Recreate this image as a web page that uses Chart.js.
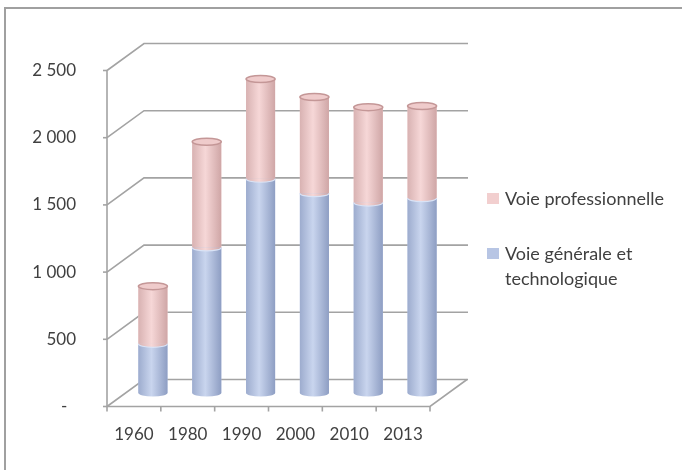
<!DOCTYPE html>
<html>
<head>
<meta charset="utf-8">
<script src="https://cdn.jsdelivr.net/npm/chart.js@4/dist/chart.umd.min.js"></script>
<style>
  body { margin: 0; background: #fff; }
  #wrap { position: relative; width: 682px; height: 470px; overflow: hidden; }
  #legend { position: absolute; left: 487px; top: 0; font-family: Lato, sans-serif; font-size: 18px; color: #404040; }
  .item { position: absolute; left: 0; width: 195px; line-height: 25px; }
  .box { position: absolute; left: 0; width: 12px; height: 11px; }
  .txt { position: absolute; left: 18px; width: 170px; }
</style>
</head>
<body>
<div id="wrap">
  <canvas id="chart" width="682" height="470"></canvas>
  <div id="legend"></div>
</div>
<script>
// data (thousands of pupils)
const categories = ['1960', '1980', '1990', '2000', '2010', '2013'];
const voieGenerale = [366, 1083, 1594, 1487, 1417, 1450];
const voiePro = [429, 786, 742, 715, 710, 685];
const yTickLabels = ['-  ', '500', '1 000', '1 500', '2 000', '2 500'];

const legendTops = [186, 241];

// offsets of the front and back planes of the fake 3D box
const depth = { fx: -19, fy: 13.5, bx: 18, by: -13.5 };
const gridColor = '#A3A3A3';

Chart.defaults.font.family = 'Lato, sans-serif';
Chart.defaults.font.size = 17;
Chart.defaults.color = '#404040';

function shade(ctx, x, w, stops) {
    const g = ctx.createLinearGradient(x - w / 2, 0, x + w / 2, 0);
    g.addColorStop(0, stops[0]);
    g.addColorStop(0.45, stops[1]);
    g.addColorStop(1, stops[2]);
    return g;
}

const frame3d = {
    id: 'frame3d',
    beforeDraw(chart) {
        const ctx = chart.ctx;
        ctx.save();
        ctx.strokeStyle = '#A0A0A0';
        ctx.lineWidth = 2;
        ctx.beginPath();
        ctx.moveTo(5, chart.height);
        ctx.lineTo(5, 8);
        ctx.lineTo(chart.width, 8);
        ctx.stroke();
        ctx.restore();
    },
    beforeDatasetsDraw(chart) {
        const ctx = chart.ctx;
        const a = chart.chartArea;
        const ys = chart.scales.y;
        const xs = chart.scales.x;
        ctx.save();
        ctx.strokeStyle = gridColor;
        ctx.lineWidth = 1.6;
        ys.ticks.forEach(t => {
            const y = ys.getPixelForValue(t.value);
            ctx.beginPath();
            ctx.moveTo(a.left + depth.fx, y + depth.fy);
            ctx.lineTo(a.left + depth.bx, y + depth.by);
            ctx.lineTo(a.right + depth.bx + 1, y + depth.by);
            ctx.stroke();
            // tick mark on the front axis
            ctx.beginPath();
            ctx.moveTo(a.left + depth.fx - 4, y + depth.fy);
            ctx.lineTo(a.left + depth.fx, y + depth.fy);
            ctx.stroke();
        });
        const y0 = ys.getPixelForValue(0);
        const yTop = ys.getPixelForValue(ys.max);
        // front axis line and floor
        ctx.beginPath();
        ctx.moveTo(a.left + depth.fx, yTop + depth.fy);
        ctx.lineTo(a.left + depth.fx, y0 + depth.fy);
        ctx.lineTo(a.right + depth.fx, y0 + depth.fy);
        ctx.lineTo(a.right + depth.bx, y0 + depth.by);
        ctx.stroke();
        // category tick marks on the floor edge
        const n = categories.length;
        for (let i = 0; i <= n; i++) {
            let x;
            if (i === 0) x = a.left;
            else if (i === n) x = a.right;
            else x = (xs.getPixelForValue(i - 1) + xs.getPixelForValue(i)) / 2;
            ctx.beginPath();
            ctx.moveTo(x + depth.fx, y0 + depth.fy);
            ctx.lineTo(x + depth.fx, y0 + depth.fy + 5);
            ctx.stroke();
        }
        ctx.restore();
    },
    afterDatasetsDraw(chart) {
        const ctx = chart.ctx;
        const looks = [
            { body: ['#9DACCE', '#C9D5EE', '#8E9EC3'], rim: '#D9E3F6' },
            { body: ['#D8B2B2', '#F6D7D7', '#CFA6A6'], rim: '#F3D4D4' }
        ];
        ctx.save();
        chart.data.datasets.forEach((ds, di) => {
            const meta = chart.getDatasetMeta(di);
            const look = looks[di];
            meta.data.forEach(bar => {
                const p = bar.getProps(['x', 'y', 'base', 'width'], true);
                const rx = p.width / 2, ry = 3.5;
                const g = shade(ctx, p.x, p.width, look.body);
                ctx.fillStyle = g;
                ctx.fillRect(p.x - rx, p.y, p.width, p.base - p.y);
                ctx.beginPath();
                ctx.ellipse(p.x, p.base, rx, ry, 0, 0, Math.PI);
                ctx.fill();
                if (di > 0) {
                    ctx.strokeStyle = looks[di - 1].rim;
                    ctx.lineWidth = 1.2;
                    ctx.beginPath();
                    ctx.ellipse(p.x, p.base, rx, ry, 0, 0, Math.PI);
                    ctx.stroke();
                }
                if (di === chart.data.datasets.length - 1) {
                    ctx.beginPath();
                    ctx.ellipse(p.x, p.y, rx, ry, 0, 0, Math.PI * 2);
                    ctx.fillStyle = '#EFCBCB';
                    ctx.fill();
                    ctx.strokeStyle = '#C49797';
                    ctx.lineWidth = 1.5;
                    ctx.stroke();
                }
            });
        });
        ctx.restore();
    }
};

const chart = new Chart(document.getElementById('chart'), {
    type: 'bar',
    data: {
        labels: categories,
        datasets: [{
            label: 'Voie générale et technologique',
            data: voieGenerale,
            backgroundColor: '#B7C5E4'
        }, {
            label: 'Voie professionnelle',
            data: voiePro,
            backgroundColor: '#F2CFCF'
        }]
    },
    options: {
        responsive: false,
        animation: false,
        layout: { padding: { top: 57, right: 233, left: 0, bottom: 0 } },
        plugins: { legend: { display: false }, tooltip: { enabled: false } },
        datasets: { bar: { categoryPercentage: 1, barPercentage: 0.54 } },
        scales: {
            x: {
                stacked: true,
                grid: { display: false, drawTicks: false },
                border: { display: false },
                ticks: { labelOffset: depth.fx, padding: 31, maxRotation: 0 },
                afterFit: s => { s.height = 77; s.paddingLeft = 0; s.paddingRight = 0; }
            },
            y: {
                stacked: true,
                min: 0,
                max: 2500,
                grid: { display: false, drawTicks: false },
                border: { display: false },
                ticks: { stepSize: 500, labelOffset: depth.fy, padding: 50,
                         callback: (v, i) => yTickLabels[i] },
                afterFit: s => { s.width = 126; s.paddingTop = 0; s.paddingBottom = 0; }
            }
        }
    },
    plugins: [frame3d]
});

// legend on the right, professional first as in the original
const legend = document.getElementById('legend');
chart.data.datasets.slice().reverse().forEach((ds, i) => {
    const item = document.createElement('div');
    item.className = 'item';
    item.style.top = legendTops[i] + 'px';
    const box = document.createElement('div');
    box.className = 'box';
    box.style.top = '7px';
    box.style.background = ds.backgroundColor;
    const txt = document.createElement('div');
    txt.className = 'txt';
    txt.textContent = ds.label;
    item.appendChild(box);
    item.appendChild(txt);
    legend.appendChild(item);
});
</script>
</body>
</html>
